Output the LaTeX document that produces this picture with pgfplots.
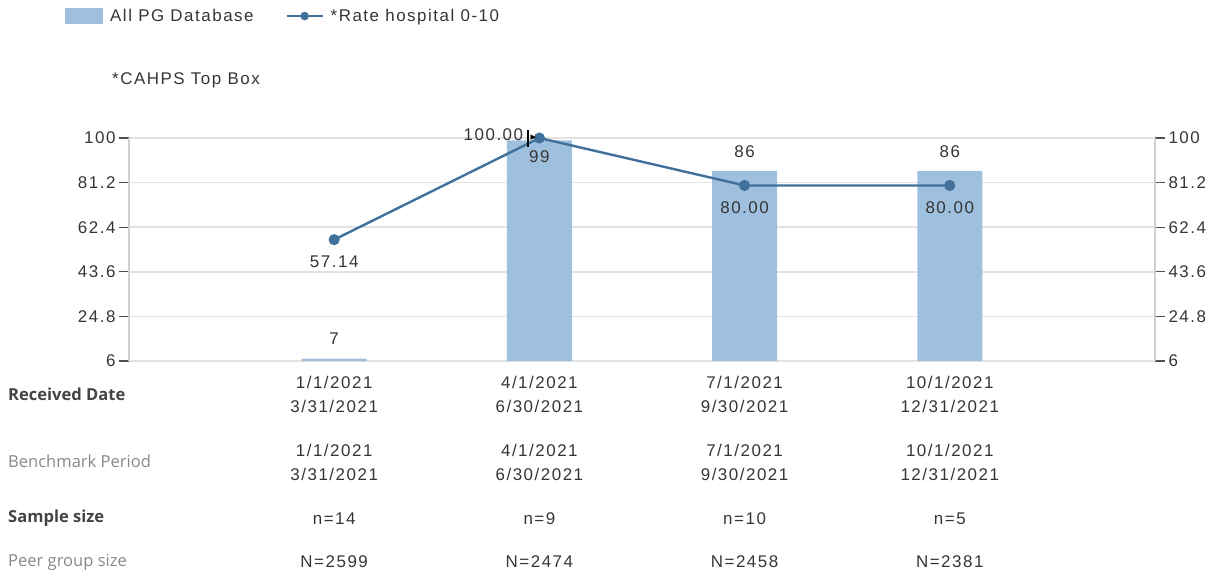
\documentclass[border=0pt]{standalone}
\usepackage{pgfplots}
\usepackage{pgfplotstable}
\pgfplotsset{compat=1.18}
\usepackage{fontspec}
\setmainfont[LetterSpace=9]{Liberation Sans}
\newfontfamily\headfont{Open Sans}
\newfontfamily\symfont{DejaVu Sans}

\definecolor{barblue}{HTML}{9EBFDD}
\definecolor{lineblue}{HTML}{41709A}
\definecolor{gridgray}{HTML}{E2E2E2}
\definecolor{axisgray}{HTML}{D0D0D0}
\definecolor{tickgray}{HTML}{505050}
\definecolor{txt}{HTML}{353535}
\definecolor{headdark}{HTML}{444444}
\definecolor{headlight}{HTML}{888888}

% All PG Database
\pgfplotstableread{
x y
0 7
1 99
2 86
3 86
}\bars
% *Rate hospital 0-10
\pgfplotstableread{
x y
0 57.14
1 100
2 80
3 80
}\rate

\pgfplotsset{
  /pgf/number format/assume math mode=true,
  common/.style={
    at={(0,0)}, anchor=south west,
    scale only axis, width=1026bp, height=223bp,
    xmin=-1, xmax=4, ymin=6, ymax=100,
    ytick={6,24.8,43.6,62.4,81.2,100},
    y axis line style={draw=axisgray, line width=1.5bp},
    tick style={draw=tickgray, line width=1.3bp},
    major tick length=10bp, tick align=outside,
    yticklabel style={text=txt},
  },
}

\begin{document}
\begin{tikzpicture}[font=\fontsize{17}{20}\selectfont]
\begin{axis}[common, name=main,
    axis lines*=left,
    x axis line style={draw=gridgray, line width=1.5bp},
    xtick={0,1,2,3},
    xtick style={draw=none},
    xticklabels={{1/1/2021\\3/31/2021},{4/1/2021\\6/30/2021},{7/1/2021\\9/30/2021},{10/1/2021\\12/31/2021}},
    xticklabel style={align=center, text=txt, font=\fontsize{17}{24}\selectfont, yshift=-2bp},
    ymajorgrids, grid style={draw=gridgray, line width=1.5bp},
    clip mode=individual,
    legend columns=2,
    legend style={at={(-0.0624,1.547)}, anchor=west, draw=none, fill=none, inner sep=0pt,
      font=\fontsize{17}{20}\selectfont, text=txt,
      /tikz/every odd column/.append style={column sep=5bp},
      /tikz/every even column/.append style={column sep=30bp}},
  ]
  \addplot[ybar, bar width=65bp, fill=barblue, draw=none,
    legend image code/.code={\fill[barblue] (0bp,-8bp) rectangle (38bp,8bp);},
    nodes near coords,
    visualization depends on={y \as \ry},
    every node near coord/.append style={anchor=center, text=txt,
      yshift={((\ry>95)?-16:20)*1bp}},
  ] table[x=x, y=y] {\bars};
  \addlegendentry{All PG Database}

  \addplot[lineblue, line width=2.4bp, mark=*, mark size=4.3bp,
    mark options={fill=lineblue, draw=lineblue},
    legend image code/.code={\draw[lineblue, line width=2bp] (0bp,0bp) -- (36bp,0bp);
      \fill[lineblue] (18bp,0bp) circle (3bp);},
    nodes near coords={\pgfmathprintnumber[fixed,fixed zerofill,precision=2]{\pgfplotspointmeta}},
    visualization depends on={x \as \rx},
    every node near coord/.append style={anchor=center, text=txt,
      xshift={((\rx>0.5)&&(\rx<1.5)?-46:0)*1bp},
      yshift={((\rx>0.5)&&(\rx<1.5)?3:-22.5)*1bp}},
  ] table[x=x, y=y] {\rate};
  \addlegendentry{*Rate hospital 0-10}

  % pointer beside the 100.00 label
  \node[inner sep=0pt, anchor=east, xshift=-3bp, text=black] at (axis cs:1,100)
    {\rule[-6bp]{1.2bp}{17bp}\hspace{2bp}{\symfont\fontsize{11}{11}\selectfont ▸}};

  % period, sample and peer group rows
  \node[align=center, text=txt, font=\fontsize{17}{24}\selectfont, yshift=-101.5bp] at (axis cs:0,6) {1/1/2021\\3/31/2021};
  \node[align=center, text=txt, font=\fontsize{17}{24}\selectfont, yshift=-101.5bp] at (axis cs:1,6) {4/1/2021\\6/30/2021};
  \node[align=center, text=txt, font=\fontsize{17}{24}\selectfont, yshift=-101.5bp] at (axis cs:2,6) {7/1/2021\\9/30/2021};
  \node[align=center, text=txt, font=\fontsize{17}{24}\selectfont, yshift=-101.5bp] at (axis cs:3,6) {10/1/2021\\12/31/2021};
  \node[text=txt, yshift=-158bp] at (axis cs:0,6) {n=14};
  \node[text=txt, yshift=-158bp] at (axis cs:1,6) {n=9};
  \node[text=txt, yshift=-158bp] at (axis cs:2,6) {n=10};
  \node[text=txt, yshift=-158bp] at (axis cs:3,6) {n=5};
  \node[text=txt, yshift=-201bp] at (axis cs:0,6) {N=2599};
  \node[text=txt, yshift=-201bp] at (axis cs:1,6) {N=2474};
  \node[text=txt, yshift=-201bp] at (axis cs:2,6) {N=2458};
  \node[text=txt, yshift=-201bp] at (axis cs:3,6) {N=2381};
\end{axis}

\begin{axis}[common,
    axis x line=none, axis y line*=right,
  ]
\end{axis}

\node[anchor=west, inner sep=0pt, text=txt] at ([shift={(-17bp,281bp)}]main.south west) {*CAHPS Top Box};

\node[anchor=west, inner sep=0pt, text=headdark, font=\headfont\bfseries\fontsize{16.6}{19}\selectfont] at ([shift={(-121bp,-33bp)}]main.south west) {Received Date};
\node[anchor=west, inner sep=0pt, text=headlight, font=\headfont\fontsize{16.6}{19}\selectfont] at ([shift={(-121bp,-100bp)}]main.south west) {Benchmark Period};
\node[anchor=west, inner sep=0pt, text=headdark, font=\headfont\bfseries\fontsize{16.6}{19}\selectfont] at ([shift={(-121bp,-157bp)}]main.south west) {Sample size};
\node[anchor=west, inner sep=0pt, text=headlight, font=\headfont\fontsize{16.6}{19}\selectfont] at ([shift={(-121bp,-201bp)}]main.south west) {Peer group size};

\pgfresetboundingbox
\path[use as bounding box] ([shift={(-129bp,-216bp)}]main.south west) rectangle ++(1212bp,577bp);
\end{tikzpicture}
\end{document}
